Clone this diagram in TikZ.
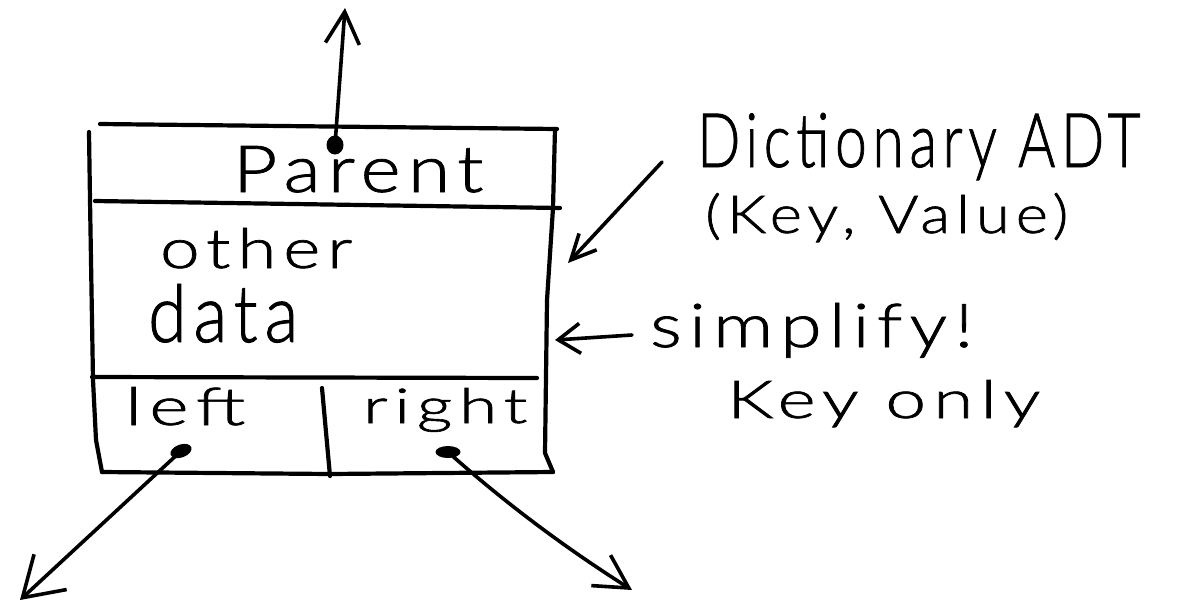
\documentclass[tikz,border=0pt]{standalone}
\usepackage{fontspec}
\setmainfont{Lato Light}[LetterSpace=10, FakeBold=1.2]
\usetikzlibrary{arrows.meta,shapes.geometric}
\newcommand{\hw}[3]{\resizebox{#1pt}{#2pt}{#3}}
\begin{document}
\begin{tikzpicture}[x=1pt,y=-1pt,
  ink/.style={line width=4.2pt, line cap=round, line join=round, black},
  arr/.style={line width=3.6pt, line cap=round, line join=round, black},
  blob/.style={ellipse, fill=black, inner sep=0pt},
  hand/.style={inner sep=0pt, anchor=base west}]
\useasboundingbox (0,0) rectangle (1193,614);
\fill[white] (0,0) rectangle (1193,614);

% outline of the tree node record
\draw[ink] (100,124) -- (557,129);                                   % top edge
\draw[ink] (555,129) -- (553,208) -- (547,300) -- (545,453) -- (553,472); % right edge
\draw[ink] (89,132) -- (90,200) -- (93,380) -- (96,440) -- (102,472);     % left edge
\draw[ink] (95,201) -- (560,208);                                    % below Parent
\draw[ink] (92,377) -- (537,378);                                    % above left/right
\draw[ink] (102,472) -- (330,474) -- (553,472);                      % bottom edge
\draw[ink] (322,388) -- (330,476);                                   % between left and right

% field labels
\node[hand] (parent) at (233,192) {\hw{250}{46}{Parent}};
\node[hand] (other)  at (160,268) {\hw{192}{40}{other}};
\node[hand] (data)   at (148,342) {\hw{150}{58}{data}};
\node[hand] (left)   at (125,425) {\hw{120}{38}{left}};
\node[hand] (right)  at (363,423) {\hw{164}{35}{right}};

% side notes
\node[hand] (dict)   at (697,167) {\hw{443}{54}{Dictionary ADT}};
\node[hand] (kv)     at (705,233) {\hw{363}{40}{(Key, Value)}};
\node[hand] (simp)   at (650,347) {\hw{323}{44}{simplify!}};
\node[hand] (konly)  at (727,418) {\hw{313}{38}{Key only}};

% pointer dots
\node[blob, minimum width=17pt, minimum height=19pt] (pdot) at (335,145) {};
\node[blob, minimum width=22pt, minimum height=13pt, rotate=20] (ldot) at (181,451) {};
\node[blob, minimum width=25pt, minimum height=12pt] (rdot) at (448,452) {};

% pointer targets and note arrow ends
\coordinate (uptip) at (345,8);
\coordinate (ltip) at (20,600);
\coordinate (rtip) at (632,590);
\coordinate (dtail) at (662,162);
\coordinate (dtip) at (568,263);
\coordinate (stail) at (632,335);
\coordinate (stip) at (555,340);

% pointers
\draw[arr, -{Straight Barb[length=32pt,width=34pt]}] (pdot.center) -- (uptip);
\draw[arr, -{Straight Barb[length=38pt,width=48pt]}] (ldot.center) -- (ltip);
\draw[arr, -{Straight Barb[length=33pt,width=36pt]}] (rdot.center) .. controls (485,485) and (545,535) .. (rtip);

% note arrows
\draw[arr, -{Straight Barb[length=25pt,width=24pt]}] (dtail) -- (dtip);
\draw[arr, -{Straight Barb[length=22pt,width=30pt]}] (stail) -- (stip);
\end{tikzpicture}
\end{document}
